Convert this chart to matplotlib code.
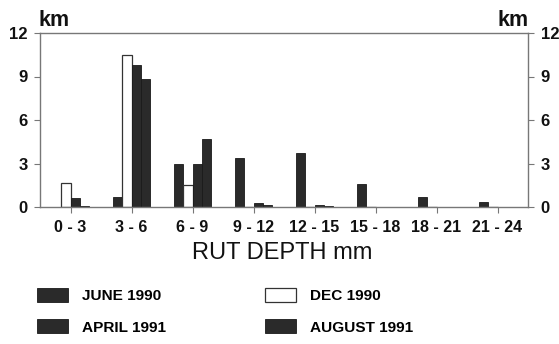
import matplotlib
matplotlib.use("Agg")
import matplotlib.pyplot as plt
import numpy as np

categories = ["0 - 3", "3 - 6", "6 - 9", "9 - 12", "12 - 15", "15 - 18", "18 - 21", "21 - 24"]
june_1990 = [0.0, 0.7, 3.0, 3.4, 3.7, 1.6, 0.7, 0.35]
dec_1990 = [1.65, 10.5, 1.5, 0.0, 0.0, 0.0, 0.0, 0.0]
april_1991 = [0.6, 9.8, 3.0, 0.25, 0.15, 0.0, 0.0, 0.0]
aug_1991 = [0.1, 8.8, 4.7, 0.15, 0.05, 0.0, 0.0, 0.0]
yticks = [0, 3, 6, 9, 12]

plt.rcParams['font.family'] = ['Liberation Sans', 'DejaVu Sans']

fig = plt.figure(figsize=(5.59, 3.44), dpi=100)
ax = fig.add_axes([40/559, 1-207/344, (528-40)/559, (207-33)/344])

x = np.arange(len(categories))
w = 0.155
dark = "#2a2a2a"
edge = "#1a1a1a"
b1 = ax.bar(x - 1.5*w, june_1990, w, color=dark, edgecolor=edge, linewidth=0.6, label="JUNE 1990")
b2 = ax.bar(x - 0.5*w, dec_1990, w, color="white", edgecolor="#333333", linewidth=0.9, label="DEC 1990")
b3 = ax.bar(x + 0.5*w, april_1991, w, color=dark, edgecolor=edge, linewidth=0.6, label="APRIL 1991")
b4 = ax.bar(x + 1.5*w, aug_1991, w, color=dark, edgecolor=edge, linewidth=0.6, label="AUGUST 1991")

ax.set_xlim(-0.5, 7.5)
ax.set_ylim(0, 12)
ax.set_yticks(yticks)
ax.set_yticklabels([str(v) for v in yticks])
ax.set_xticks(x)
ax.set_xticklabels(categories)
for s in ax.spines.values():
    s.set_color("#777777")
    s.set_linewidth(1.0)
ax.tick_params(axis='y', left=True, right=True, labelleft=True, labelright=True,
               direction='out', length=4, width=0.8, color="#777777", pad=5,
               labelsize=12, labelcolor="#111111")
ax.tick_params(axis='x', bottom=True, direction='out', length=4, width=0.8,
               color="#777777", pad=5, labelsize=11.5, labelcolor="#111111")
for lab in ax.get_xticklabels() + ax.get_yticklabels():
    lab.set_fontweight('bold')

fig.text(0.5*(190+374)/559, 1-259/344, "RUT DEPTH mm", fontsize=17, ha='center',
         va='baseline', color="#111111")

fig.text(39/559, 1-26/344, "km", fontsize=15.5, fontweight='bold', ha='left', va='baseline', color="#111111")
fig.text(529/559, 1-26/344, "km", fontsize=15.5, fontweight='bold', ha='right', va='baseline', color="#111111")

handles = [b1, b3, b2, b4]
labels = ["JUNE 1990", "APRIL 1991", "DEC 1990", "AUGUST 1991"]
leg = fig.legend(handles, labels, ncol=2, loc='upper left',
                 bbox_to_anchor=(37/559, 1-288/344), frameon=False,
                 handlelength=2.0, handleheight=1.0,
                 handletextpad=0.9, columnspacing=6.45, labelspacing=1.05,
                 borderpad=0, borderaxespad=0,
                 prop={'weight': 'bold', 'size': 11.1})

fig.savefig("out.png", dpi=100)
